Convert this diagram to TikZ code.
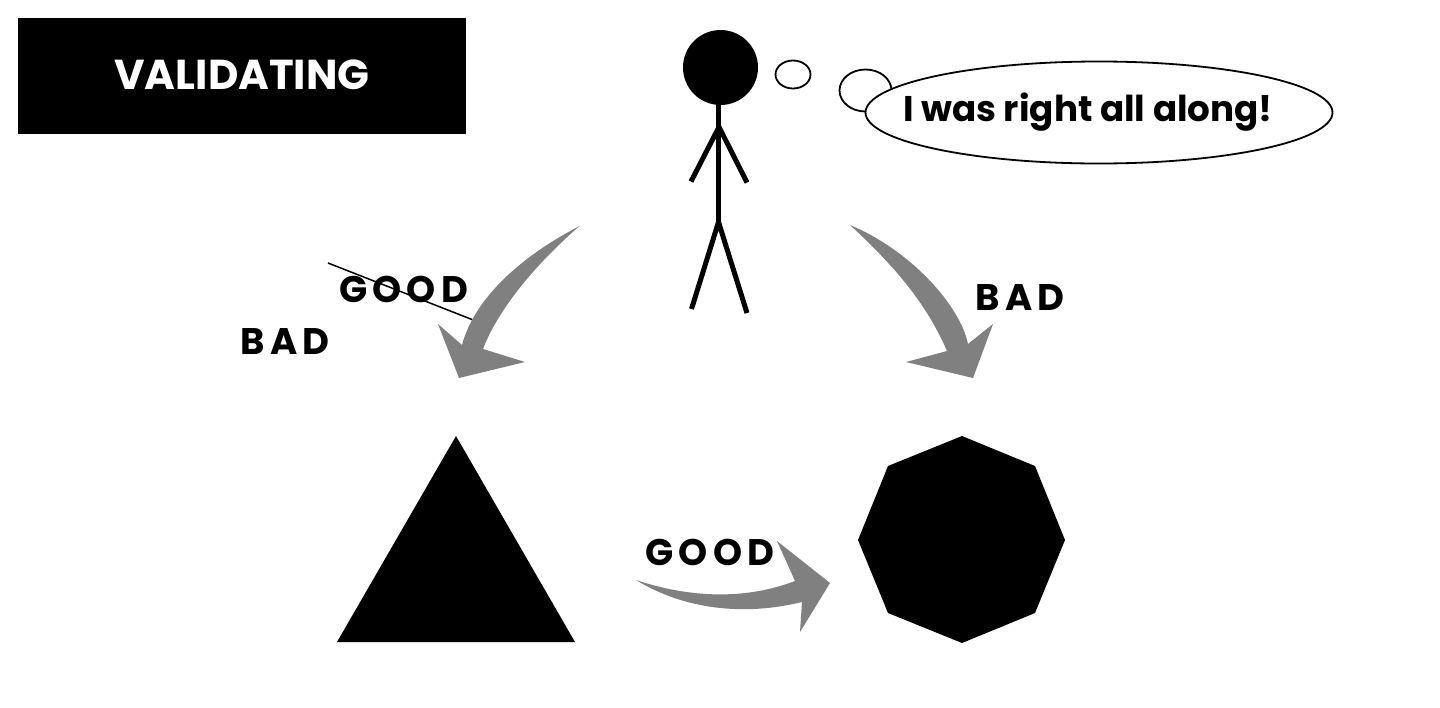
\documentclass[tikz,border=0pt]{standalone}
\usepackage{fontspec}
\setmainfont{Poppins}
\newfontfamily\spacedfont{Poppins Bold}[LetterSpace=14]
\newfontfamily\heavyfont{Poppins Bold}
\tikzset{
  txt/.style={inner sep=0pt,font=\heavyfont},
  lab/.style={inner sep=0pt,text=black,font=\spacedfont\fontsize{37}{37}\selectfont},
  limb/.style={draw=black,line width=5pt},
  bubble/.style={draw=black,line width=1.8pt,fill=white},
  grayarrow/.style={fill=black!50,draw=none},
  solidshape/.style={fill=black,draw=none}
}
\begin{document}
\begin{tikzpicture}[x=1pt,y=-1pt]
\useasboundingbox (0,0) rectangle (1440,707);
\fill[white] (0,0) rectangle (1440,707);
\node[fill=black,minimum width=448pt,minimum height=116pt,inner sep=0pt] (title) at (242,76) {};
\node[txt,text=white,font=\heavyfont\fontsize{41.8}{41.8}\selectfont] (titletext) at (242,75) {VALIDATING};
% figure
\fill[solidshape] (720.5,67.5) circle (37.5);
\draw[limb] (718.5,100) -- (718.5,222);
\draw[limb] (691,181.5) -- (719,127) -- (747,182.5);
\draw[limb] (691.5,309) -- (718.5,222) -- (747,313);
% thought
\draw[bubble] (793,74.5) ellipse (17.5 and 14);
\draw[bubble] (865.5,90.5) ellipse (26 and 21);
\draw[bubble] (1099,112.5) ellipse (233.5 and 51);
\node[txt,font=\heavyfont\fontsize{35.7}{35.7}\selectfont] (thought) at (1088,112) {I was right all along!};
% arrows
\fill[grayarrow] (579.5,226) .. controls (518,258) and (474,300) .. (462,345) -- (438,324) -- (459,378) -- (525,362) -- (483,349) .. controls (499,308) and (535,265) .. (579.5,226) -- cycle;
\fill[grayarrow] (850,225) .. controls (910,250) and (960,305) .. (968,344) -- (993,324) -- (973,378) -- (906,362) -- (947,351) .. controls (925,300) and (890,262) .. (850,225) -- cycle;
\fill[grayarrow] (636,580) .. controls (690,598) and (745,600) .. (795,581) -- (777,541) -- (830,583) -- (800,632) -- (802,602) .. controls (745,616) and (685,610) .. (636,580) -- cycle;
% labels
\node[lab] (goodA) at (403.5,289) {GOOD};
\node[lab] (badA) at (285,341.5) {BAD};
\node[lab] (badB) at (1020,297.5) {BAD};
\node[lab] (goodB) at (710,552) {GOOD};
\coordinate (s1) at (328,263);
\coordinate (s2) at (472,319.5);
\draw[black,line width=1.5pt] (s1) -- (s2);
% shapes
\fill[solidshape] (456,436) -- (575,642) -- (337,642) -- cycle;
\fill[solidshape] (962,436) -- (1035,466) -- (1065,540) -- (1035,613) -- (962,643) -- (888,613) -- (858,540) -- (888,466) -- cycle;
\end{tikzpicture}
\end{document}
